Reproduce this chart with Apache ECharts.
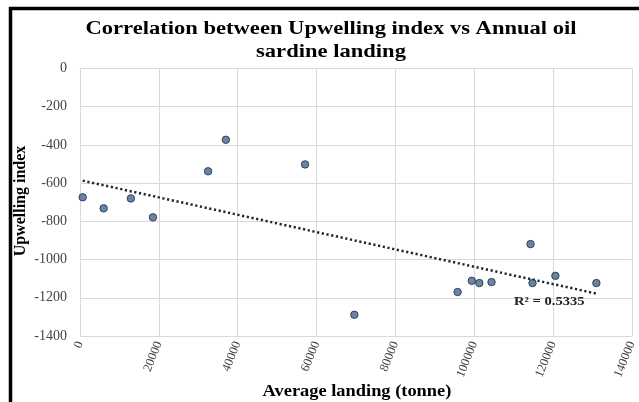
<!DOCTYPE html>
<html>
<head>
<meta charset="utf-8">
<script src="https://cdn.jsdelivr.net/npm/echarts@6/dist/echarts.min.js"></script>
<style>html,body{margin:0;padding:0;background:#fff;}#c{width:639px;height:402px;}</style>
</head>
<body>
<div id="c"></div>
<script>
var landing = [680, 6000, 12900, 18500, 32500, 37000, 57100, 69600, 95800, 99400, 101300, 104400, 114300, 114800, 120600, 131000];
var upwelling = [-674, -732, -680, -779, -538, -373, -502, -1289, -1170, -1111, -1123, -1118, -919, -1123, -1085, -1123];
var trendX = [680, 131000];
var trendY = [-587, -1178];
var xTicks = [0, 20000, 40000, 60000, 80000, 100000, 120000, 140000];
var yTicks = [0, -200, -400, -600, -800, -1000, -1200, -1400];
var titleText = 'Correlation between Upwelling index vs Annual oil\nsardine landing';
var xName = 'Average landing (tonne)';
var yName = 'Upwelling index';
var rSquared = 'R² = 0.5335';

var pts = landing.map(function (x, i) { return [x, upwelling[i]]; });
var trend = trendX.map(function (x, i) { return [x, trendY[i]]; });
var serif = '"Liberation Serif", "DejaVu Serif", serif';

var chart = echarts.init(document.getElementById('c'));
chart.setOption({
  animation: false,
  backgroundColor: '#fff',
  grid: { left: 80, right: 3, top: 68.5, bottom: 66, containLabel: false },
  xAxis: {
    type: 'value', min: 0, max: 140000, interval: 20000,
    axisLine: { show: true, lineStyle: { color: '#d9d9d9' } },
    axisTick: { show: false },
    splitLine: { show: true, lineStyle: { color: '#d9d9d9', width: 1 } },
    axisLabel: {
      rotate: 68, margin: 6, fontFamily: serif, fontSize: 12.5, color: '#444',
      formatter: function (v) { return xTicks.indexOf(v) >= 0 ? String(v) : ''; }
    }
  },
  yAxis: {
    type: 'value', min: -1400, max: 0, interval: 200,
    axisLine: { show: false },
    axisTick: { show: false },
    splitLine: { show: true, lineStyle: { color: '#d9d9d9', width: 1 } },
    axisLabel: {
      margin: 13, fontFamily: serif, fontSize: 14, color: '#444',
      formatter: function (v) { return yTicks.indexOf(v) >= 0 ? String(v) : ''; }
    }
  },
  series: [
    {
      type: 'line', data: trend, symbol: 'none', silent: true,
      lineStyle: { type: [2.2, 2.6], width: 2.5, color: '#1c2636', cap: 'butt' },
      z: 3
    },
    {
      type: 'scatter', data: pts, symbol: 'circle', symbolSize: 7.5,
      itemStyle: { color: '#43658f', borderColor: '#1e2d42', borderWidth: 1 },
      z: 4
    }
  ],
  graphic: [
    { type: 'rect', left: 8, top: 6, shape: { width: 660, height: 420 }, style: { fill: 'none', stroke: '#000', lineWidth: 3.5 }, z: 10 },
    { type: 'text', x: 331, y: 40.5, scaleX: 1.22, style: { text: titleText, font: 'bold 18.5px ' + serif, fill: '#000', align: 'center', verticalAlign: 'middle', lineHeight: 23 }, z: 10 },
    { type: 'text', x: 357, y: 392, scaleX: 1.15, style: { text: xName, font: 'bold 16px ' + serif, fill: '#000', align: 'center', verticalAlign: 'middle' }, z: 10 },
    { type: 'text', x: 21, y: 201, rotation: Math.PI / 2, style: { text: yName, font: 'bold 16px ' + serif, fill: '#000', align: 'center', verticalAlign: 'middle' }, z: 10 },
    { type: 'text', x: 514, y: 302, scaleX: 1.12, style: { text: rSquared, font: 'bold 13px ' + serif, fill: '#222', align: 'left', verticalAlign: 'middle' }, z: 10 }
  ]
});
</script>
</body>
</html>
